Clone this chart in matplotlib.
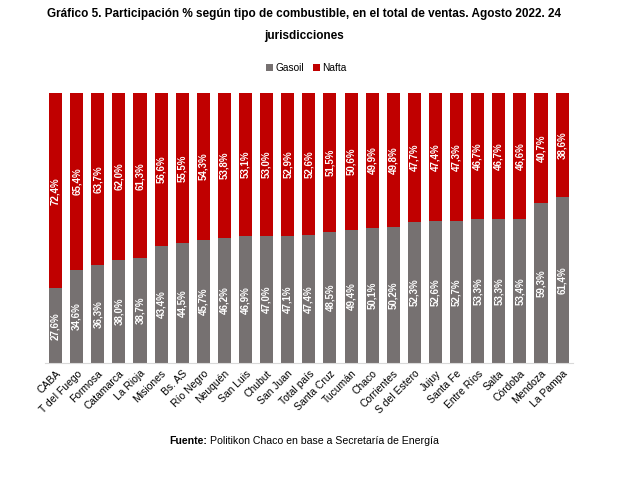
import matplotlib.pyplot as plt

# Datos
provincias = ['CABA', 'T del Fuego', 'Formosa', 'Catamarca', 'La Rioja', 'Misiones',
              'Bs. AS', 'Río Negro', 'Neuquén', 'San Luis', 'Chubut', 'San Juan',
              'Total país', 'Santa Cruz', 'Tucumán', 'Chaco', 'Corrientes',
              'S del Estero', 'Jujuy', 'Santa Fe', 'Entre Ríos', 'Salta', 'Córdoba',
              'Mendoza', 'La Pampa']
gasoil = [27.6, 34.6, 36.3, 38.0, 38.7, 43.4, 44.5, 45.7, 46.2, 46.9, 47.0, 47.1,
          47.4, 48.5, 49.4, 50.1, 50.2, 52.3, 52.6, 52.7, 53.3, 53.3, 53.4, 59.3, 61.4]
nafta = [72.4, 65.4, 63.7, 62.0, 61.3, 56.6, 55.5, 54.3, 53.8, 53.1, 53.0, 52.9,
         52.6, 51.5, 50.6, 49.9, 49.8, 47.7, 47.4, 47.3, 46.7, 46.7, 46.6, 40.7, 38.6]

gris = '#767171'
rojo = '#C00000'

plt.rcParams['font.family'] = ['Liberation Sans', 'DejaVu Sans']

fig = plt.figure(figsize=(6.29, 4.78), dpi=100)
ax = fig.add_axes([0.0715, 0.2406, 0.839, 0.565])

x = range(len(provincias))
b1 = ax.bar(x, gasoil, width=0.62, color=gris, label='Gasoil')
b2 = ax.bar(x, nafta, width=0.62, bottom=gasoil, color=rojo, label='Nafta')

def fmt(vals):
    return [f"{v:.1f}%".replace('.', ',') for v in vals]

for barras, vals in [(b1, gasoil), (b2, nafta)]:
    ax.bar_label(barras, labels=fmt(vals), label_type='center', rotation=90,
                 color='white', fontsize=7, fontweight='bold')

ax.set_xlim(-0.5, len(provincias) - 0.5)
ax.set_ylim(0, 100)
ax.set_xticks(list(x))
ax.set_xticklabels(provincias, rotation=45, ha='right', rotation_mode='anchor', fontsize=7.5)
ax.tick_params(axis='x', length=0, pad=4)
ax.set_yticks([])
for s in ['top', 'right', 'left']:
    ax.spines[s].set_visible(False)
ax.spines['bottom'].set_color('#D9D9D9')

fig.text(0.484, 0.970, 'Gráfico 5. Participación % según tipo de combustible, en el total de ventas. Agosto 2022. 24',
         ha='center', va='center', fontsize=8.5, fontweight='bold')
fig.text(0.484, 0.924, 'jurisdicciones', ha='center', va='center', fontsize=8.5, fontweight='bold')

fig.legend(loc='center', bbox_to_anchor=(0.487, 0.858), ncol=2, frameon=False, fontsize=7.3,
           handlelength=0.7, handleheight=0.7, handletextpad=0.2, columnspacing=0.9)

fig.text(0.329, 0.077, 'Fuente:', ha='right', va='center', fontsize=7.6, fontweight='bold')
fig.text(0.334, 0.077, 'Politikon Chaco en base a Secretaría de Energía', ha='left', va='center', fontsize=7.6)

fig.savefig('out.png', dpi=100)
